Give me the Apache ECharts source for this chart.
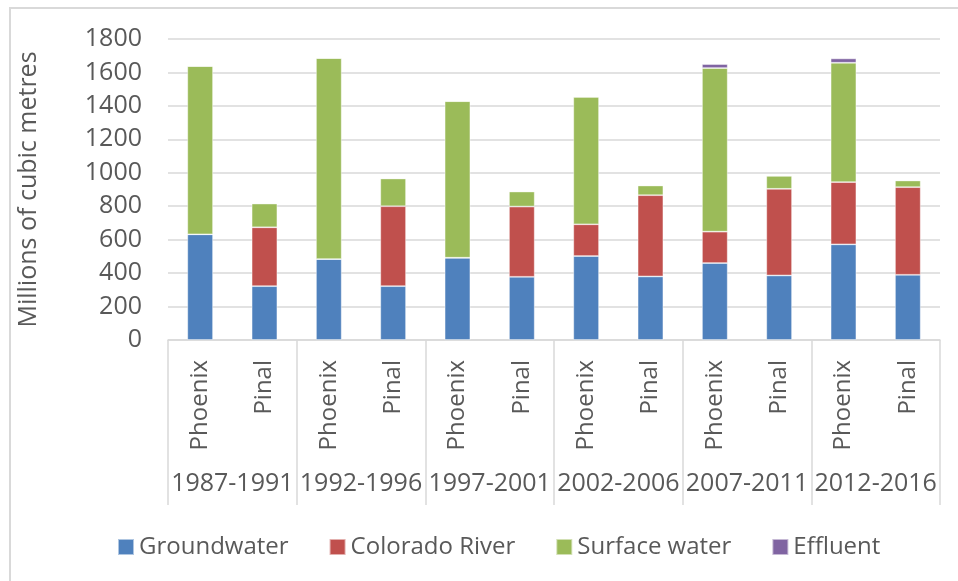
<!DOCTYPE html>
<html>
<head>
<meta charset="utf-8">
<script src="https://cdn.jsdelivr.net/npm/echarts@6/dist/echarts.min.js"></script>
<style>
  html, body { margin: 0; padding: 0; background: #fff; }
  #wrap { position: relative; width: 958px; height: 581px; overflow: hidden; }
  #frame { position: absolute; left: 9px; top: 7px; width: 1000px; height: 620px;
           border-left: 2px solid #d9d9d9; border-top: 2px solid #d9d9d9; box-sizing: border-box; }
  #chart { position: absolute; left: 0; top: 0; width: 958px; height: 581px; }
</style>
</head>
<body>
<div id="wrap">
  <div id="frame"></div>
  <div id="chart"></div>
</div>
<script>
// Water supply by source, millions of cubic metres, per county and five-year period
const counties = ['Phoenix', 'Pinal', 'Phoenix', 'Pinal', 'Phoenix', 'Pinal',
                  'Phoenix', 'Pinal', 'Phoenix', 'Pinal', 'Phoenix', 'Pinal'];
const periods = ['1987-1991', '1992-1996', '1997-2001', '2002-2006', '2007-2011', '2012-2016'];
const groundwater   = [632, 322, 484, 322, 492, 378, 502, 380, 460, 386, 572, 390];
const coloradoRiver = [0, 352, 0, 478, 0, 420, 190, 486, 188, 518, 372, 524];
const surfaceWater  = [1006, 142, 1202, 166, 936, 90, 762, 58, 978, 78, 714, 40];
const effluent      = [0, 0, 0, 0, 0, 0, 0, 0, 24, 0, 26, 0];
const yTicks = { min: 0, max: 1800, interval: 200 };

const FONT = "'Open Sans', 'DejaVu Sans', sans-serif";
const TEXT = '#595959';
const GRID = '#d9d9d9';

function stackSeries(name, data, color) {
  return {
    name, type: 'bar', stack: 'total', data,
    barWidth: '40%',
    itemStyle: { color, borderColor: 'rgba(255,255,255,0.55)', borderWidth: 0.8 }
  };
}

const chart = echarts.init(document.getElementById('chart'), null, { renderer: 'canvas' });
chart.setOption({
  animation: false,
  textStyle: { fontFamily: FONT, color: TEXT },
  grid: { left: 168, right: 18, top: 39, bottom: 241, containLabel: false },
  legend: {
    left: 112, top: 530,
    itemWidth: 16, itemHeight: 16, itemGap: 40,
    icon: 'rect',
    textStyle: { fontFamily: FONT, fontSize: 24, color: TEXT },
    data: ['Groundwater', 'Colorado River', 'Surface water', 'Effluent']
  },
  xAxis: [
    {
      type: 'category', data: counties, position: 'bottom',
      axisLine: { lineStyle: { color: GRID, width: 1.5 } },
      axisTick: { show: false },
      axisLabel: { rotate: 90, interval: 0, margin: 20, fontSize: 24, color: TEXT, fontFamily: FONT }
    },
    {
      type: 'category', data: periods, position: 'bottom', gridIndex: 0,
      axisLine: { show: false },
      axisTick: { show: true, length: 165, interval: 0, lineStyle: { color: GRID, width: 1.5 } },
      axisLabel: { interval: 0, margin: 131, fontSize: 25, color: TEXT, fontFamily: FONT }
    }
  ],
  yAxis: {
    type: 'value', min: yTicks.min, max: yTicks.max, interval: yTicks.interval,
    name: 'Millions of cubic metres', nameLocation: 'middle', nameGap: 127,
    nameTextStyle: { fontSize: 25, color: TEXT, fontFamily: FONT },
    axisLine: { show: false }, axisTick: { show: false },
    axisLabel: { margin: 26, fontSize: 25, color: TEXT, fontFamily: FONT,
                 formatter: (v) => String(v) },
    splitLine: { lineStyle: { color: GRID, width: 1.5 } }
  },
  series: [
    stackSeries('Groundwater', groundwater, '#4f81bd'),
    stackSeries('Colorado River', coloradoRiver, '#c0504d'),
    stackSeries('Surface water', surfaceWater, '#9bbb59'),
    stackSeries('Effluent', effluent, '#8064a2')
  ]
});
</script>
</body>
</html>
